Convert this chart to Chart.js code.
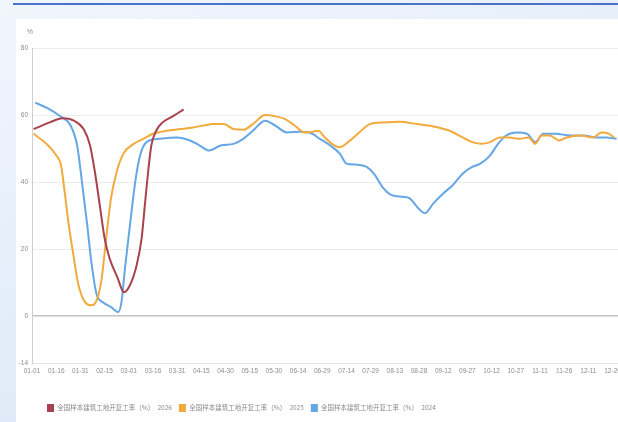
<!DOCTYPE html>
<html>
<head>
<meta charset="utf-8">
<script src="https://cdn.jsdelivr.net/npm/chart.js@4.4.1/dist/chart.umd.min.js"></script>
<style>
  html, body { margin: 0; padding: 0; width: 618px; height: 422px; overflow: hidden; }
  body {
    position: relative;
    background: linear-gradient(160deg, #f1f6fd 0%, #e3edf9 50%, #d8e5f6 100%);
    font-family: "Noto Sans CJK SC", "Noto Sans", sans-serif;
  }
  .topline { position: absolute; left: 13px; top: 3px; width: 605px; height: 2px; background: #4a74c9; }
  .panel { position: absolute; left: 16px; top: 19px; width: 620px; height: 403px; background: #ffffff; }
  .panel canvas { position: absolute; left: 0; top: 0; }
</style>
</head>
<body>
<div class="topline"></div>
<div class="panel"><canvas id="chart" width="620" height="403"></canvas></div>
<script>
// x axis: dates on a leap-year calendar (day 0 = 01-01)
const tickLabels = ['01-01','01-16','01-31','02-15','03-01','03-16','03-31','04-15','04-30',
  '05-15','05-30','06-14','06-29','07-14','07-29','08-13','08-28','09-12','09-27',
  '10-12','10-27','11-11','11-26','12-11','12-26'];
const yTicks = [-14, 0, 20, 40, 60, 80];

const seriesNames = [
  '全国样本建筑工地开复工率（%）　2026',
  '全国样本建筑工地开复工率（%）　2025',
  '全国样本建筑工地开复工率（%）　2024'
];

// 2026
const days2026 = [1, 11, 19, 26, 32, 36, 39, 42, 45, 48, 53, 57, 61, 65, 68, 70, 72, 74, 77, 81, 88, 94];
const values2026 = [55.8, 57.8, 59, 58.3, 55.8, 50.9, 43, 33.2, 23.3, 17.4, 11.5, 7.1, 9.5, 15.4, 23.3,
  33.2, 43, 50.9, 55.3, 57.8, 59.8, 61.7];

// 2025
const days2025 = [1, 9, 15, 18, 20, 22.5, 25.6, 28.7, 33, 37, 40, 43, 46, 49, 52.5, 56.6, 63, 69, 75, 83.5,
  92, 100, 108, 112, 119, 125, 131, 137, 144.5, 151, 157, 163, 169, 174, 177.5, 181.6, 186, 191, 196, 202,
  209.5, 218, 228, 238.5, 249, 259, 267, 273, 279, 284, 290, 296, 302.5, 308, 312, 316, 321, 327, 331.5,
  340, 348, 353, 358, 361];
const values2025 = [54.4, 51.4, 48, 45, 38, 28.2, 18.4, 9.5, 4.1, 3.2, 4.6, 10.5, 23.3, 35.2, 43, 48.4, 51.4,
  52.9, 54.4, 55.3, 55.8, 56.3, 57, 57.3, 57.3, 55.8, 55.6, 57.3, 60, 59.6, 58.8, 56.8, 54.8, 55, 55.3, 53.3,
  51.4, 50.4, 51.9, 54.4, 57.3, 57.8, 58, 57.3, 56.6, 55.3, 53.3, 51.9, 51.4, 51.9, 53.3, 53.3, 52.9, 53.3,
  51.4, 53.9, 53.9, 52.4, 53.3, 53.9, 53.3, 54.8, 54.4, 53.3];

// 2024
const days2024 = [2, 9, 17, 24, 28, 31, 34, 37, 40, 44, 49, 53.5, 55.6, 57.7, 61, 64, 67, 71, 79, 90, 98, 104,
  110, 117, 125, 131, 137, 144.5, 151, 158, 166, 172, 178.5, 185, 191, 195, 201, 207.5, 212, 218, 223, 230,
  234, 239.5, 243.6, 249, 255, 261, 267, 273, 278, 284, 289, 294, 300.5, 307, 312, 317, 325, 333.5, 342, 350,
  356, 362.5];
const values2024 = [63.7, 62.2, 59.8, 56.8, 50.9, 40, 28.2, 15.4, 6.6, 4.1, 2.7, 1.2, 4.6, 14.5, 28.2, 40, 47.9,
  51.9, 52.9, 53.3, 52.4, 50.9, 49.4, 50.9, 51.4, 52.9, 55.3, 58.3, 56.8, 54.8, 55, 54.8, 52.9, 50.9, 48.4,
  45.5, 45.2, 44.5, 42.5, 38.1, 36.1, 35.6, 35.2, 32.2, 30.7, 33.7, 36.6, 39.1, 42.5, 44.5, 45.5, 47.9, 51.4,
  53.9, 54.8, 54.4, 51.9, 54.4, 54.4, 53.9, 53.9, 53.3, 53.3, 52.9];

const monthStart = [0, 31, 60, 91, 121, 152, 182, 213, 244, 274, 305, 335];
function dayOfYear(md) {
  const [m, d] = md.split('-').map(Number);
  return monthStart[m - 1] + d - 1;
}
const tickDays = tickLabels.map(dayOfYear);

function points(days, values) {
  return days.map((d, i) => ({ x: d, y: values[i] }));
}

const colors = ['#a8424d', '#f2aa3c', '#64a6e6'];
const tickFont = { family: '"Liberation Sans", Arial, sans-serif', size: 6.5 };

function lineSet(label, days, values, color) {
  return {
    label, data: points(days, values),
    borderColor: color, backgroundColor: color,
    borderWidth: 2, pointRadius: 0, cubicInterpolationMode: 'monotone'
  };
}

// unit label above the value axis, and legend offset from the panel edge
const extras = {
  id: 'extras',
  afterLayout(chart) {
    const lg = chart.legend;
    if (lg) { lg.left += 24; lg.right += 24; }
  },
  afterDraw(chart) {
    const { ctx, chartArea } = chart;
    ctx.save();
    ctx.font = '6.5px "Liberation Sans", Arial, sans-serif';
    ctx.fillStyle = '#888';
    ctx.textAlign = 'center';
    ctx.textBaseline = 'middle';
    ctx.fillText('%', chartArea.left - 2, chartArea.top - 16);
    ctx.restore();
  }
};

new Chart(document.getElementById('chart'), {
  type: 'line',
  data: {
    datasets: [
      lineSet(seriesNames[0], days2026, values2026, colors[0]),
      lineSet(seriesNames[1], days2025, values2025, colors[1]),
      lineSet(seriesNames[2], days2024, values2024, colors[2])
    ]
  },
  options: {
    responsive: false,
    animation: false,
    layout: { padding: { left: 0, right: 17, top: 29, bottom: 0 } },
    scales: {
      x: {
        type: 'linear', min: 0, max: 364,
        afterBuildTicks(scale) { scale.ticks = tickDays.map(v => ({ value: v })); },
        afterFit(scale) { scale.height = 34; },
        grid: { display: false, drawTicks: false },
        border: { display: true, color: '#e6e6e6' },
        ticks: {
          autoSkip: false, maxRotation: 0, padding: 4, font: tickFont, color: '#8c8c8c',
          callback(v) { const i = tickDays.indexOf(v); return i >= 0 ? tickLabels[i] : ''; }
        }
      },
      y: {
        min: -14, max: 80,
        afterBuildTicks(scale) { scale.ticks = yTicks.map(v => ({ value: v })); },
        afterFit(scale) { scale.width = 16; },
        grid: {
          drawTicks: false,
          color: c => (c.tick && c.tick.value === 0 ? '#c2c2c2' : '#ececec'),
          lineWidth: c => (c.tick && c.tick.value === 0 ? 1.5 : 1)
        },
        border: { display: true, color: '#cfcfcf' },
        ticks: { padding: 4, font: tickFont, color: '#8c8c8c' }
      }
    },
    plugins: {
      legend: {
        position: 'bottom', align: 'start',
        labels: {
          boxWidth: 7, boxHeight: 8, padding: 7, color: '#8c8c8c',
          font: { family: '"Noto Sans CJK SC", sans-serif', size: 6.5 },
          generateLabels(chart) {
            return Chart.defaults.plugins.legend.labels.generateLabels(chart)
              .map(l => Object.assign(l, { lineWidth: 0 }));
          }
        }
      },
      tooltip: { enabled: false }
    }
  },
  plugins: [extras]
});
</script>
</body>
</html>
